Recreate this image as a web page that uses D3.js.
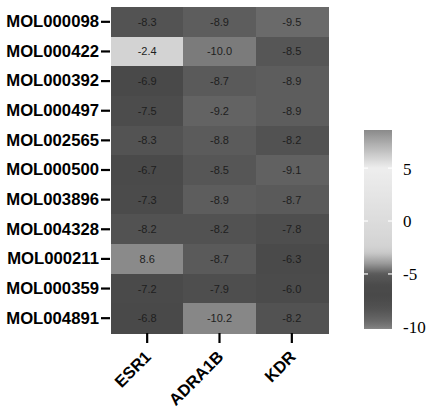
<!DOCTYPE html>
<html>
<head>
<meta charset="utf-8">
<script src="https://cdn.jsdelivr.net/npm/d3@7"></script>
<style>
  body { margin: 0; background: #fff; }
  svg { display: block; }
</style>
</head>
<body>
<svg id="chart" width="428" height="407"></svg>
<script>
const molecules = ['MOL000098', 'MOL000422', 'MOL000392', 'MOL000497', 'MOL002565', 'MOL000500',
  'MOL003896', 'MOL004328', 'MOL000211', 'MOL000359', 'MOL004891'];
const targets = ['ESR1', 'ADRA1B', 'KDR'];

// docking scores, one array per target (same order as molecules)
const esr1 = [-8.3, -2.4, -6.9, -7.5, -8.3, -6.7, -7.3, -8.2, 8.6, -7.2, -6.8];
const adra1b = [-8.9, -10.0, -8.7, -9.2, -8.8, -8.5, -8.9, -8.2, -8.7, -7.9, -10.2];
const kdr = [-9.5, -8.5, -8.9, -8.9, -8.2, -9.1, -8.7, -7.8, -6.3, -6.0, -8.2];

const legendTicks = [5, 0, -5, -10];

const scores = { ESR1: esr1, ADRA1B: adra1b, KDR: kdr };

const cells = [];
targets.forEach((t) => {
  scores[t].forEach((v, i) => cells.push({ target: t, mol: molecules[i], value: v }));
});

const allValues = cells.map((d) => d.value);
const vmin = d3.min(allValues);
const vmax = d3.max(allValues);

const sans = 'Liberation Sans';
const serif = 'Liberation Serif';

// grey palette as it looks in the picture
const colorStops = [
  [vmin, '#878787'], [-10.0, '#7b7b7b'], [-9.5, '#6a6a6a'], [-9.0, '#5f5f5f'],
  [-8.5, '#565656'], [-8.0, '#4f4f4f'], [-7.0, '#494949'], [-6.0, '#4b4b4b'],
  [-5.0, '#5a5a5a'], [-4.0, '#9a9a9a'], [-3.0, '#c9c9c9'], [-2.4, '#d3d3d3'],
  [0, '#dcdcdc'], [5, '#eeeeee'], [vmax, '#8a8a8a']
];
const color = d3.scaleLinear()
  .domain(colorStops.map((s) => s[0]))
  .range(colorStops.map((s) => s[1]))
  .interpolate(d3.interpolateRgb);

const svg = d3.select('#chart');

const xscale = d3.scaleBand()
  .domain(targets)
  .range([111, 328]);

const yscale = d3.scaleBand()
  .domain(molecules)
  .range([7, 333]);

// cells
svg.append('g')
  .attr('shape-rendering', 'crispEdges')
  .selectAll('rect')
  .data(cells)
  .enter()
  .append('rect')
  .attr('x', (d) => xscale(d.target))
  .attr('y', (d) => yscale(d.mol))
  .attr('width', xscale.bandwidth() + 0.6)
  .attr('height', yscale.bandwidth() + 0.6)
  .attr('fill', (d) => color(d.value));

svg.append('g')
  .selectAll('text')
  .data(cells)
  .enter()
  .append('text')
  .attr('x', (d) => xscale(d.target) + xscale.bandwidth() / 2)
  .attr('y', (d) => yscale(d.mol) + yscale.bandwidth() / 2)
  .attr('dy', '0.36em')
  .attr('text-anchor', 'middle')
  .attr('font-family', sans)
  .attr('font-size', 11)
  .attr('fill', '#1e1e1e')
  .text((d) => d.value.toFixed(1));

// left axis
const leftAxis = d3.axisLeft(yscale).tickSize(9).tickPadding(2);
const gLeft = svg.append('g')
  .attr('transform', 'translate(110, 0)')
  .call(leftAxis)
  .attr('font-family', sans)
  .attr('font-size', 16.7)
  .attr('font-weight', 'bold');
gLeft.select('.domain').remove();
gLeft.selectAll('.tick line').attr('stroke', '#000').attr('stroke-width', 2.2);
gLeft.selectAll('.tick text').attr('fill', '#000');

// bottom axis
const bottomAxis = d3.axisBottom(xscale).tickSize(10).tickPadding(4);
const gBottom = svg.append('g')
  .attr('transform', 'translate(0, 333)')
  .call(bottomAxis)
  .attr('font-family', sans)
  .attr('font-size', 16.5)
  .attr('font-weight', 'bold');
gBottom.select('.domain').remove();
gBottom.selectAll('.tick line').attr('stroke', '#000').attr('stroke-width', 2.2);
gBottom.selectAll('.tick text')
  .attr('fill', '#000')
  .attr('text-anchor', 'end')
  .attr('dy', null)
  .attr('transform', 'translate(-5, 15) rotate(-45)');

// colour bar
const legendY = d3.scaleLinear()
  .domain([vmin, vmax])
  .range([329, 130]);

const defs = svg.append('defs');
const grad = defs.append('linearGradient')
  .attr('id', 'legendGrad')
  .attr('x1', 0).attr('y1', 1).attr('x2', 0).attr('y2', 0);
grad.selectAll('stop')
  .data(d3.range(0, 1.0001, 0.01))
  .enter()
  .append('stop')
  .attr('offset', (t) => t)
  .attr('stop-color', (t) => color(vmin + t * (vmax - vmin)));

const legendX = 364;
const legendW = 28;
svg.append('rect')
  .attr('x', legendX)
  .attr('y', legendY(vmax))
  .attr('width', legendW)
  .attr('height', legendY(vmin) - legendY(vmax))
  .attr('fill', 'url(#legendGrad)');

const lt = svg.append('g');
const innerTicks = legendTicks.filter((d) => d > vmin + 0.5);
lt.selectAll('line.l')
  .data(innerTicks)
  .enter()
  .append('line')
  .attr('x1', legendX).attr('x2', legendX + 4)
  .attr('y1', (d) => legendY(d)).attr('y2', (d) => legendY(d))
  .attr('stroke', '#fff').attr('stroke-width', 1.2);
lt.selectAll('line.r')
  .data(innerTicks)
  .enter()
  .append('line')
  .attr('x1', legendX + legendW - 4).attr('x2', legendX + legendW)
  .attr('y1', (d) => legendY(d)).attr('y2', (d) => legendY(d))
  .attr('stroke', '#fff').attr('stroke-width', 1.2);

lt.selectAll('text')
  .data(legendTicks)
  .enter()
  .append('text')
  .attr('x', 403)
  .attr('y', (d) => legendY(d))
  .attr('dy', '0.38em')
  .attr('font-family', serif)
  .attr('font-size', 17)
  .attr('fill', '#000')
  .text((d) => d);
</script>
</body>
</html>
